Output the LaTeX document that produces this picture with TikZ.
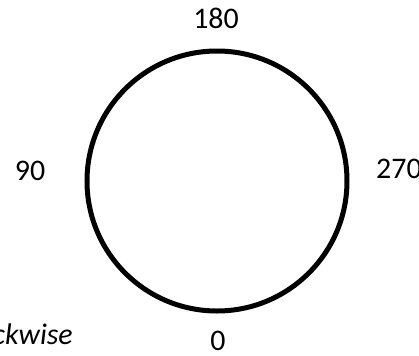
\documentclass[tikz,border=0pt]{standalone}
\usepackage{fontspec}
\setmainfont{Carlito}
\usepackage{tikz}
\usetikzlibrary{positioning}
\tikzset{
  dial/.style={draw=black,circle,line width=5bp,minimum size=260bp,inner sep=0pt},
  anglelabel/.style={font=\fontsize{30}{34}\selectfont,inner sep=0pt},
  senselabel/.style={font=\fontsize{30}{34}\selectfont\itshape,inner sep=0pt}
}
\begin{document}
\begin{tikzpicture}[x=1bp,y=-1bp]
      \useasboundingbox (0,0) rectangle (419,356);
      \clip (0,0) rectangle (419,356);
      \node[dial] (dial) at (217,181) {};
      \node[anglelabel] (top) at (216,18) {180};
      \node[anglelabel] (left) at (30,171) {90};
      \node[anglelabel, anchor=west] (right) at (376,169) {270};
      \node[anglelabel] (bottom) at (218,341) {0};
      \node[senselabel, anchor=base east] (sense) at (73,344) {Clockwise};
    \end{tikzpicture}
\end{document}
